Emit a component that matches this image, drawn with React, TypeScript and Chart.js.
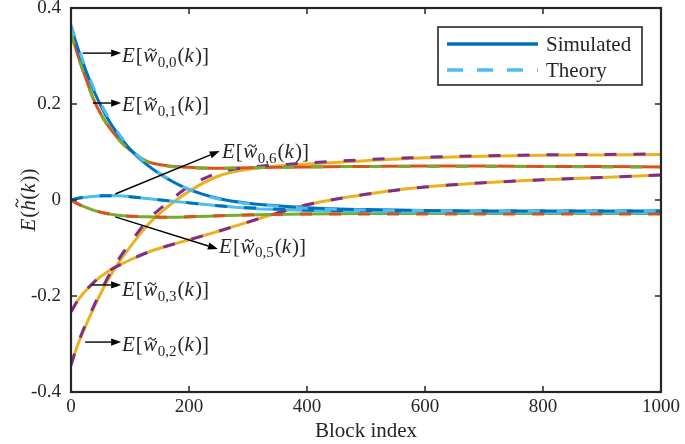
import { useEffect, useRef } from "react";
import { Chart, registerables } from "chart.js";

Chart.register(...registerables);

// ---- data ----
const blockIndex = [0, 10, 20, 40, 60, 80, 100, 130, 160, 200, 250, 300, 350, 400, 500, 600, 700, 800, 900, 1000];

const simW00 = [0.362, 0.322, 0.287, 0.224, 0.174, 0.136, 0.106, 0.072, 0.047, 0.022, 0.003, -0.007, -0.012, -0.016, -0.02, -0.022, -0.023, -0.023, -0.023, -0.023];
const thW00 = [0.365, 0.326, 0.291, 0.229, 0.179, 0.14, 0.109, 0.074, 0.048, 0.022, 0.002, -0.008, -0.013, -0.017, -0.021, -0.022, -0.023, -0.023, -0.023, -0.023];

const simW01 = [0.35, 0.308, 0.272, 0.205, 0.16, 0.128, 0.104, 0.08, 0.072, 0.068, 0.066, 0.067, 0.068, 0.069, 0.07, 0.071, 0.071, 0.07, 0.07, 0.069];
const thW01 = [0.348, 0.306, 0.27, 0.204, 0.159, 0.127, 0.103, 0.079, 0.071, 0.067, 0.066, 0.067, 0.068, 0.069, 0.07, 0.07, 0.07, 0.07, 0.069, 0.069];

const simW06 = [0, 0.003, 0.005, 0.008, 0.009, 0.009, 0.007, 0.003, -0.001, -0.006, -0.012, -0.017, -0.02, -0.022, -0.024, -0.025, -0.025, -0.026, -0.026, -0.026];
const thW06 = [0, 0.003, 0.005, 0.008, 0.009, 0.009, 0.007, 0.003, -0.001, -0.006, -0.012, -0.016, -0.019, -0.021, -0.022, -0.023, -0.023, -0.023, -0.023, -0.023];

const simW05 = [0, -0.007, -0.013, -0.022, -0.028, -0.032, -0.034, -0.035, -0.036, -0.035, -0.033, -0.031, -0.03, -0.029, -0.028, -0.028, -0.028, -0.028, -0.028, -0.028];
const thW05 = [0, -0.007, -0.013, -0.022, -0.028, -0.032, -0.034, -0.035, -0.036, -0.035, -0.033, -0.031, -0.03, -0.029, -0.029, -0.029, -0.029, -0.029, -0.029, -0.029];

const simW02 = [-0.344, -0.307, -0.276, -0.221, -0.172, -0.132, -0.098, -0.052, -0.018, 0.018, 0.05, 0.064, 0.071, 0.075, 0.082, 0.088, 0.091, 0.093, 0.094, 0.095];
const thW02 = [-0.344, -0.305, -0.273, -0.217, -0.167, -0.125, -0.09, -0.042, -0.009, 0.028, 0.057, 0.068, 0.073, 0.077, 0.084, 0.089, 0.092, 0.094, 0.095, 0.096];

const simW03 = [-0.233, -0.212, -0.196, -0.17, -0.151, -0.137, -0.125, -0.109, -0.097, -0.083, -0.065, -0.046, -0.027, -0.01, 0.012, 0.027, 0.036, 0.042, 0.047, 0.052];
const thW03 = [-0.233, -0.212, -0.196, -0.17, -0.151, -0.137, -0.125, -0.109, -0.097, -0.083, -0.065, -0.046, -0.027, -0.01, 0.012, 0.027, 0.036, 0.042, 0.047, 0.052];

const xTickStep = 200;
const yTickStep = 0.2;
const xRange = [0, 1000];
const yRange = [-0.4, 0.4];
const legendLabels = ["Simulated", "Theory"];
const xTitle = "Block index";

// ---- styling ----
const C = {
  blue: "#0072BD",
  orange: "#D95319",
  yellow: "#EDB120",
  purple: "#7E2F8E",
  green: "#77AC30",
  cyan: "#4DBEEE",
};
const INK = "#262626";
const FONT = '"Liberation Serif", "Times New Roman", serif';

const curves = [
  { sub: "0,0", sim: simW00, th: thW00, simColor: C.blue, thColor: C.cyan },
  { sub: "0,1", sim: simW01, th: thW01, simColor: C.orange, thColor: C.green },
  { sub: "0,6", sim: simW06, th: thW06, simColor: C.cyan, thColor: C.blue },
  { sub: "0,5", sim: simW05, th: thW05, simColor: C.green, thColor: C.orange },
  { sub: "0,2", sim: simW02, th: thW02, simColor: C.yellow, thColor: C.purple },
  { sub: "0,3", sim: simW03, th: thW03, simColor: C.yellow, thColor: C.purple },
];

// annotation arrows and labels, in data coordinates
const notes = [
  { sub: "0,0", from: [20, 0.306], to: [85, 0.306], text: [86.5, 0.2875] },
  { sub: "0,1", from: [37, 0.202], to: [85, 0.202], text: [86.5, 0.185] },
  { sub: "0,6", from: [75, 0.0125], to: [252, 0.102], text: [256, 0.0875] },
  { sub: "0,5", from: [75, -0.035], to: [249, -0.102], text: [251, -0.11] },
  { sub: "0,3", from: [35.5, -0.177], to: [85, -0.177], text: [86.5, -0.2] },
  { sub: "0,2", from: [24, -0.296], to: [85, -0.296], text: [86.5, -0.315] },
];

type Part = { t: string; it?: boolean; sub?: boolean; tilde?: boolean; gap?: number };

function drawParts(ctx: CanvasRenderingContext2D, x: number, y: number, parts: Part[], size: number) {
  const subSize = Math.round(size * 0.72);
  let cx = x;
  ctx.textBaseline = "alphabetic";
  ctx.textAlign = "left";
  for (const p of parts) {
    const fs = p.sub ? subSize : size;
    ctx.font = `${p.it ? "italic " : ""}${fs}px ${FONT}`;
    const w = ctx.measureText(p.t).width;
    const by = p.sub ? y + size * 0.22 : y;
    ctx.fillText(p.t, cx, by);
    if (p.tilde) {
      const isTall = p.t === "h";
      const tx = cx + w / 2 + (isTall ? 2.5 : 1.5);
      const ty = by - (isTall ? size * 0.86 : size * 0.58);
      const hw = size * 0.19;
      ctx.save();
      ctx.lineWidth = 1.2;
      ctx.beginPath();
      ctx.moveTo(tx - hw, ty + 1);
      ctx.quadraticCurveTo(tx - hw / 2, ty - 2.6, tx, ty);
      ctx.quadraticCurveTo(tx + hw / 2, ty + 2.6, tx + hw, ty - 1);
      ctx.stroke();
      ctx.restore();
    }
    cx += w + (p.gap ?? 0);
  }
  return cx - x;
}

function labelParts(sub: string): Part[] {
  return [
    { t: "E", it: true, gap: 1 },
    { t: "[", gap: 0.5 },
    { t: "w", it: true, tilde: true, gap: 0.5 },
    { t: sub, sub: true, gap: 1 },
    { t: "(" },
    { t: "k", it: true, gap: 1 },
    { t: ")" },
    { t: "]" },
  ];
}

const overlayPlugin = {
  id: "overlay",
  afterDatasetsDraw(chart: any) {
    const { ctx, chartArea: a, scales } = chart;
    const xs = scales.x;
    const ys = scales.y;
    ctx.save();
    ctx.strokeStyle = INK;
    ctx.fillStyle = INK;

    // inward ticks on all four sides
    ctx.lineWidth = 1.5;
    const tl = 6;
    ctx.beginPath();
    for (const t of xs.ticks) {
      const px = xs.getPixelForValue(t.value);
      ctx.moveTo(px, a.bottom);
      ctx.lineTo(px, a.bottom - tl);
      ctx.moveTo(px, a.top);
      ctx.lineTo(px, a.top + tl);
    }
    for (const t of ys.ticks) {
      const py = ys.getPixelForValue(t.value);
      ctx.moveTo(a.left, py);
      ctx.lineTo(a.left + tl, py);
      ctx.moveTo(a.right, py);
      ctx.lineTo(a.right - tl, py);
    }
    ctx.stroke();

    // frame
    ctx.lineWidth = 2.2;
    ctx.strokeRect(a.left, a.top, a.right - a.left, a.bottom - a.top);

    // annotations
    ctx.strokeStyle = "#000";
    ctx.fillStyle = "#000";
    for (const n of notes) {
      const x0 = xs.getPixelForValue(n.from[0]);
      const y0 = ys.getPixelForValue(n.from[1]);
      const x1 = xs.getPixelForValue(n.to[0]);
      const y1 = ys.getPixelForValue(n.to[1]);
      const ang = Math.atan2(y1 - y0, x1 - x0);
      const hl = 10;
      const hwid = 3.6;
      const bx = x1 - hl * Math.cos(ang);
      const by = y1 - hl * Math.sin(ang);
      ctx.lineWidth = 1.4;
      ctx.beginPath();
      ctx.moveTo(x0, y0);
      ctx.lineTo(bx, by);
      ctx.stroke();
      ctx.beginPath();
      ctx.moveTo(x1, y1);
      ctx.lineTo(bx + hwid * Math.sin(ang), by - hwid * Math.cos(ang));
      ctx.lineTo(bx - hwid * Math.sin(ang), by + hwid * Math.cos(ang));
      ctx.closePath();
      ctx.fill();

      ctx.fillStyle = INK;
      ctx.strokeStyle = INK;
      drawParts(ctx, xs.getPixelForValue(n.text[0]), ys.getPixelForValue(n.text[1]), labelParts(n.sub), 21);
      ctx.fillStyle = "#000";
      ctx.strokeStyle = "#000";
    }

    // legend box (top-right inside the axes)
    const lw = 204;
    const lh = 58;
    const lx = a.right - 19 - lw;
    const ly = a.top + 19;
    ctx.fillStyle = "#fff";
    ctx.fillRect(lx, ly, lw, lh);
    ctx.strokeStyle = INK;
    ctx.lineWidth = 1.6;
    ctx.strokeRect(lx, ly, lw, lh);
    const rows = [
      { label: legendLabels[0], color: C.blue, dash: [] as number[] },
      { label: legendLabels[1], color: C.cyan, dash: [16, 14] },
    ];
    rows.forEach((r, i) => {
      const ry = ly + 17 + i * 26;
      ctx.save();
      ctx.strokeStyle = r.color;
      ctx.lineWidth = 3.5;
      ctx.setLineDash(r.dash);
      ctx.beginPath();
      ctx.moveTo(lx + 9, ry);
      ctx.lineTo(lx + 100, ry);
      ctx.stroke();
      ctx.restore();
      ctx.fillStyle = INK;
      ctx.font = `21px ${FONT}`;
      ctx.textAlign = "left";
      ctx.textBaseline = "middle";
      ctx.fillText(r.label, lx + 108, ry + 1);
    });

    // y-axis title  E(h~(k))
    ctx.save();
    ctx.fillStyle = INK;
    ctx.strokeStyle = INK;
    const yParts: Part[] = [
      { t: "E", it: true, gap: 1 },
      { t: "(" },
      { t: "h", it: true, tilde: true, gap: 0.5 },
      { t: "(" },
      { t: "k", it: true, gap: 1 },
      { t: ")" },
      { t: ")" },
    ];
    let total = 0;
    for (const p of yParts) {
      ctx.font = `${p.it ? "italic " : ""}21px ${FONT}`;
      total += ctx.measureText(p.t).width + (p.gap ?? 0);
    }
    const cy = (a.top + a.bottom) / 2;
    ctx.translate(35, cy);
    ctx.rotate(-Math.PI / 2);
    drawParts(ctx, -total / 2, 0, yParts, 21);
    ctx.restore();

    ctx.restore();
  },
};

export default function App() {
  const ref = useRef<HTMLCanvasElement | null>(null);

  useEffect(() => {
    if (!ref.current) return;
    const simSets = curves.map((c) => ({
      label: "sim " + c.sub,
      data: blockIndex.map((x, i) => ({ x, y: c.sim[i] })),
      borderColor: c.simColor,
      borderWidth: 3,
      pointRadius: 0,
      fill: false,
      cubicInterpolationMode: "monotone" as const,
      order: 1,
    }));
    const thSets = curves.map((c) => ({
      label: "th " + c.sub,
      data: blockIndex.map((x, i) => ({ x, y: c.th[i] })),
      borderColor: c.thColor,
      borderWidth: 3,
      borderDash: [12, 17],
      pointRadius: 0,
      fill: false,
      cubicInterpolationMode: "monotone" as const,
      order: 0,
    }));

    const chart = new Chart(ref.current, {
      type: "line",
      data: { datasets: [...simSets, ...thSets] as any },
      options: {
        animation: false,
        responsive: false,
        layout: { padding: { top: 8, right: 24, left: 0, bottom: 0 } },
        plugins: {
          legend: { display: false },
          tooltip: { enabled: false },
        },
        scales: {
          x: {
            type: "linear",
            min: xRange[0],
            max: xRange[1],
            grid: { display: false, drawTicks: false },
            border: { display: false },
            ticks: {
              stepSize: xTickStep,
              color: INK,
              font: { family: FONT, size: 19 },
              padding: 4,
              maxRotation: 0,
              callback: (v: any) => String(Math.round(Number(v))),
            },
            title: {
              display: true,
              text: xTitle,
              color: INK,
              font: { family: FONT, size: 21 },
              padding: 0,
            },
            afterFit(scale: any) {
              scale.height = 52;
              scale.paddingLeft = 0;
              scale.paddingRight = 0;
            },
          },
          y: {
            type: "linear",
            min: yRange[0],
            max: yRange[1],
            grid: { display: false, drawTicks: false },
            border: { display: false },
            ticks: {
              stepSize: yTickStep,
              color: INK,
              font: { family: FONT, size: 19 },
              padding: 10,
              callback: (v: any) => {
                const n = Math.round(Number(v) * 10) / 10;
                return n === 0 ? "0" : String(n);
              },
            },
            afterFit(scale: any) {
              scale.width = 71;
              scale.paddingTop = 0;
              scale.paddingBottom = 0;
            },
          },
        },
      },
      plugins: [overlayPlugin],
    });
    return () => chart.destroy();
  }, []);

  return (
    <div style={{ position: "absolute", left: 0, top: 0, width: 685, height: 444, background: "#fff" }}>
      <canvas ref={ref} width={685} height={444} style={{ display: "block", width: 685, height: 444 }} />
    </div>
  );
}
